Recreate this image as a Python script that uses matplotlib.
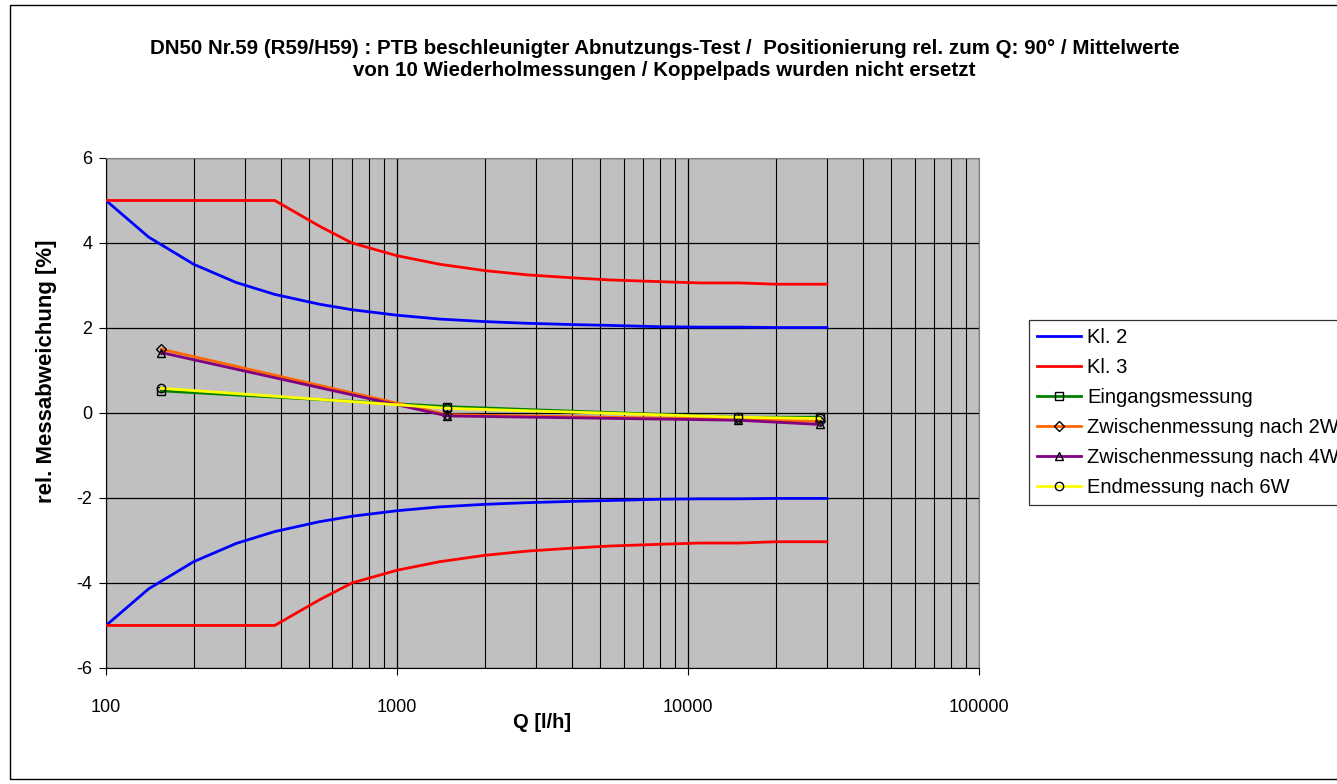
import matplotlib
matplotlib.use("Agg")
import matplotlib.pyplot as plt
from matplotlib.patches import Rectangle
from matplotlib.ticker import FixedLocator, NullFormatter, LogLocator

plt.rcParams["font.family"] = ["Liberation Sans", "DejaVu Sans"]

# Fehlergrenzen (Klassenkurven)
Q_GRENZ = [100, 140, 200, 280, 380, 540, 700, 1000, 1400, 2000, 2800, 4000,
           5400, 8000, 11000, 15000, 20000, 30000]
KL2_OBEN = [5.0, 4.14, 3.5, 3.07, 2.79, 2.56, 2.43, 2.3, 2.21, 2.15, 2.11, 2.08,
            2.06, 2.03, 2.02, 2.02, 2.01, 2.01]
KL2_UNTEN = [-5.0, -4.14, -3.5, -3.07, -2.79, -2.56, -2.43, -2.3, -2.21, -2.15, -2.11,
             -2.08, -2.06, -2.03, -2.02, -2.02, -2.01, -2.01]
KL3_OBEN = [5.0, 5.0, 5.0, 5.0, 5.0, 4.4, 4.0, 3.7, 3.5, 3.35, 3.25, 3.18,
            3.13, 3.09, 3.06, 3.06, 3.03, 3.03]
KL3_UNTEN = [-5.0, -5.0, -5.0, -5.0, -5.0, -4.4, -4.0, -3.7, -3.5, -3.35, -3.25,
             -3.18, -3.13, -3.09, -3.06, -3.06, -3.03, -3.03]

# Messpunkte
Q_MESS = [155, 1490, 14800, 28300]
EINGANG = [0.52, 0.15, -0.10, -0.10]
NACH_2W = [1.50, -0.04, -0.15, -0.20]
NACH_4W = [1.42, -0.07, -0.17, -0.27]
NACH_6W = [0.58, 0.11, -0.10, -0.13]

X_TICKS = [100, 1000, 10000, 100000]
Y_TICKS = [-6, -4, -2, 0, 2, 4, 6]

fig = plt.figure(figsize=(13.37, 7.84), dpi=100)
fig.patch.set_facecolor("white")
ax = fig.add_axes([0.0793, 0.148, 0.6530, 0.6505])
ax.set_facecolor("#C0C0C0")

lw = 2.0
ax.plot(Q_GRENZ, KL2_OBEN, color="#0000FF", lw=lw, label="Kl. 2", zorder=3)
ax.plot(Q_GRENZ, KL3_OBEN, color="#FF0000", lw=lw, label="Kl. 3", zorder=3)
ax.plot(Q_GRENZ, KL2_UNTEN, color="#0000FF", lw=lw, zorder=3)
ax.plot(Q_GRENZ, KL3_UNTEN, color="#FF0000", lw=lw, zorder=3)

mk = dict(markersize=6, markerfacecolor="none", markeredgecolor="black",
          markeredgewidth=1.0, lw=lw, zorder=4)
ax.plot(Q_MESS, EINGANG, color="#008000", marker="s", label="Eingangsmessung", **mk)
ax.plot(Q_MESS, NACH_2W, color="#FF6600", marker="D", label="Zwischenmessung nach 2W",
        **{**mk, "markersize": 5})
ax.plot(Q_MESS, NACH_4W, color="#800080", marker="^", label="Zwischenmessung nach 4W", **mk)
ax.plot(Q_MESS, NACH_6W, color="#FFFF00", marker="o", label="Endmessung nach 6W", **mk)

ax.set_xscale("log")
ax.set_xlim(100, 100000)
ax.set_ylim(-6, 6)
ax.xaxis.set_major_locator(FixedLocator(X_TICKS))
ax.set_xticklabels([str(t) for t in X_TICKS])
ax.xaxis.set_minor_locator(LogLocator(base=10, subs=range(2, 10)))
ax.xaxis.set_minor_formatter(NullFormatter())
ax.set_yticks(Y_TICKS)
ax.set_yticklabels([str(t) for t in Y_TICKS])

ax.grid(which="major", axis="both", color="black", lw=0.9, zorder=1)
ax.grid(which="minor", axis="x", color="black", lw=0.8, zorder=1)
ax.set_axisbelow(True)
ax.tick_params(which="major", direction="out", length=5, labelsize=13, pad=5, color="black")
ax.tick_params(which="minor", length=0)
ax.tick_params(axis="x", pad=17)
for s in ax.spines.values():
    s.set_color("#808080")
ax.spines["left"].set_color("black")
ax.spines["bottom"].set_color("black")

ax.set_xlabel("Q [l/h]", fontsize=14.5, fontweight="bold", labelpad=-2)
fig.text(47 / 1337, 1 - 371 / 784, "rel. Messabweichung [%]", rotation=90,
         ha="center", va="center", fontsize=16, fontweight="bold")

fig.text(0.497, 0.938,
         "DN50 Nr.59 (R59/H59) : PTB beschleunigter Abnutzungs-Test /  Positionierung rel. zum Q: 90° / Mittelwerte",
         ha="center", va="center", fontsize=14.8, fontweight="bold")
fig.text(0.497, 0.910,
         "von 10 Wiederholmessungen / Koppelpads wurden nicht ersetzt",
         ha="center", va="center", fontsize=14.8, fontweight="bold")

# die Legende ragt wie im Original über den rechten Rand hinaus
leg = ax.legend(loc="upper left", bbox_to_anchor=(1029 / 1337, 1 - 320 / 784),
                bbox_transform=fig.transFigure, fontsize=14.5, frameon=True,
                fancybox=False, edgecolor="black", handlelength=2.2,
                labelspacing=0.55, borderpad=0.4, handletextpad=0.3,
                borderaxespad=0)
leg.get_frame().set_linewidth(0.9)

fig.patches.append(Rectangle((0.0075, 0.006), 1.1, 0.988, transform=fig.transFigure,
                             fill=False, edgecolor="black", lw=1.0))

fig.savefig("out.png", dpi=100)
